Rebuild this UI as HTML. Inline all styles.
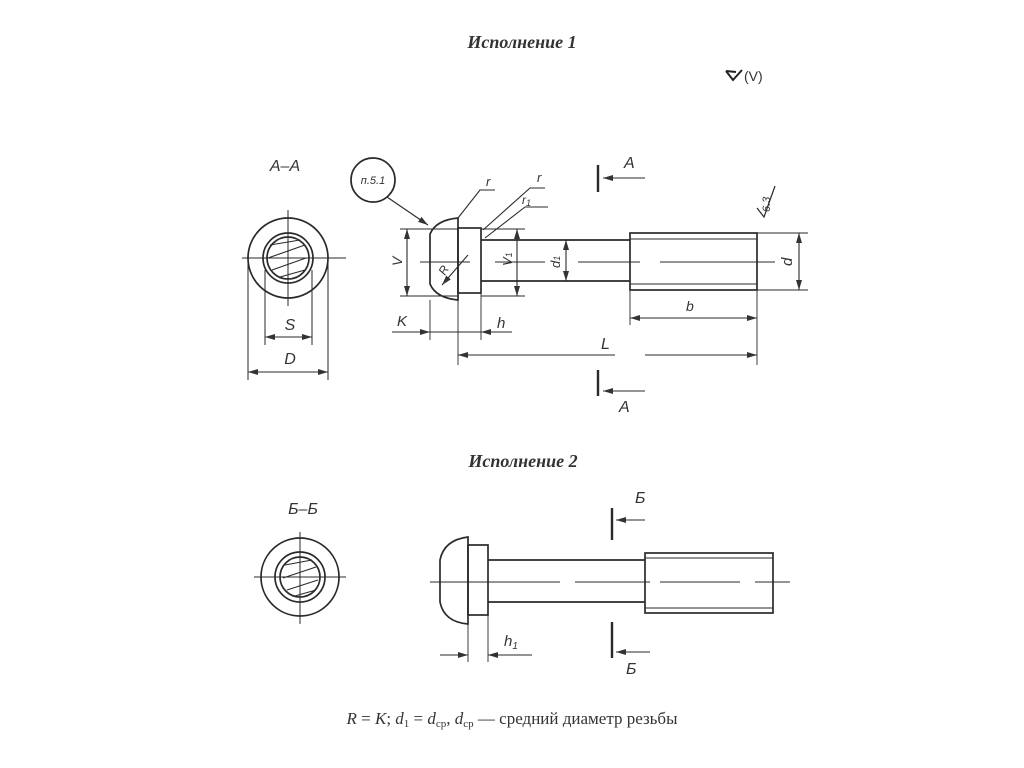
<!DOCTYPE html>
<html><head><meta charset="utf-8"><style>
html,body{margin:0;padding:0;background:#fff;}
svg{display:block}
text{font-family:"Liberation Sans",sans-serif;fill:#333}
.i{font-style:italic}
.t{font-family:"Liberation Serif",serif}
</style></head><body>
<svg width="1024" height="768" viewBox="0 0 1024 768" xmlns="http://www.w3.org/2000/svg">
<defs>
<marker id="a" viewBox="0 0 10 6" refX="10" refY="3" markerWidth="10" markerHeight="6" orient="auto-start-reverse" markerUnits="userSpaceOnUse"><path d="M0,0L10,3L0,6z" fill="#333"/></marker>
</defs>
<text x="522" y="48" class="t i" font-size="18" text-anchor="middle" font-weight="bold" fill="#444">Исполнение 1</text>
<path d="M726,71 L733,80 L742,70 M726,71 L736,72" stroke="#222" stroke-width="2" fill="none"/>
<text x="744" y="81" font-size="14">(V)</text>
<text x="523" y="467" class="t i" font-size="18" text-anchor="middle" font-weight="bold" fill="#444">Исполнение 2</text>
<text x="512" y="724" class="t" font-size="17" text-anchor="middle" fill="#222"><tspan class="i">R</tspan> = <tspan class="i">K</tspan>; <tspan class="i">d</tspan><tspan font-size="11" dy="3">1</tspan><tspan dy="-3"> = </tspan><tspan class="i">d</tspan><tspan font-size="11" dy="3">ср</tspan><tspan dy="-3">, </tspan><tspan class="i">d</tspan><tspan font-size="11" dy="3">ср</tspan><tspan dy="-3"> — средний диаметр резьбы</tspan></text>

<g stroke="#2a2a2a" fill="none" stroke-width="1.7">
<!-- A-A section -->
<circle cx="288" cy="258" r="40"/>
<circle cx="288" cy="258" r="25"/>
<circle cx="288" cy="258" r="21"/>
<path d="M270,245 L300,240 M268,258 L305,245 M272,270 L306,258 M280,277 L305,270" stroke-width="1.1"/>
<path d="M242,258H346M288,210V306" stroke-width="1"/>
<path d="M248,262V380M328,262V380M265,270V345M312,270V345" stroke-width="1"/>
<path d="M248,372H328" marker-start="url(#a)" marker-end="url(#a)" stroke-width="1.1"/>
<path d="M265,337H312" marker-start="url(#a)" marker-end="url(#a)" stroke-width="1.1"/>

<!-- bolt 1 -->
<path d="M458,218 Q436,220 430,234 V284 Q436,298 458,300 Z"/>
<rect x="458" y="228" width="23" height="65"/>
<path d="M481,240H630M481,281H630"/>
<rect x="630" y="233" width="127" height="57"/>
<path d="M630,239H757M630,284H757" stroke-width="0.9"/>
<path d="M420,262H470M495,262H545M578,262H640M660,262H775" stroke-width="0.9"/>
<path d="M400,229H458M400,296H458M481,229H525M481,296H525" stroke-width="0.9"/>
<path d="M407,229V296" marker-start="url(#a)" marker-end="url(#a)" stroke-width="1.1"/>
<path d="M517,229V296" marker-start="url(#a)" marker-end="url(#a)" stroke-width="1.1"/>
<path d="M566,240V281" marker-start="url(#a)" marker-end="url(#a)" stroke-width="1.1"/>
<path d="M757,233H808M757,290H808" stroke-width="0.9"/>
<path d="M799,233V290" marker-start="url(#a)" marker-end="url(#a)" stroke-width="1.1"/>
<path d="M430,300V340M458,300V365M481,293V340M757,290V365M630,290V325" stroke-width="0.9"/>
<path d="M392,332H430" marker-end="url(#a)" stroke-width="1.1"/>
<path d="M430,332H481" stroke-width="0.9"/>
<path d="M512,332H481" marker-end="url(#a)" stroke-width="1.1"/>
<path d="M630,318H757" marker-start="url(#a)" marker-end="url(#a)" stroke-width="1.1"/>
<path d="M458,355H615M645,355H757" stroke-width="1.1"/>
<path d="M468,355H458" marker-end="url(#a)" stroke-width="1.1"/>
<path d="M747,355H757" marker-end="url(#a)" stroke-width="1.1"/>
<path d="M468,255L442,285" marker-end="url(#a)" stroke-width="1.1"/>
<circle cx="373" cy="180" r="22"/>
<path d="M387,197L428,225" marker-end="url(#a)" stroke-width="1.1"/>
<path d="M495,190H480L458,218" stroke-width="1.1"/>
<path d="M545,188H530L483,230" stroke-width="1.1"/>
<path d="M548,207H525L485,238" stroke-width="1.1"/>
<path d="M598,165V192M598,370V396" stroke-width="2.4"/>
<path d="M645,178H603" marker-end="url(#a)" stroke-width="1.1"/>
<path d="M645,391H603" marker-end="url(#a)" stroke-width="1.1"/>
<path d="M757,208L764,217L775,186" stroke-width="1.2"/>

<!-- Б-Б section -->
<circle cx="300" cy="577" r="39"/>
<circle cx="300" cy="577" r="25"/>
<circle cx="300" cy="577" r="20"/>
<path d="M285,565L312,560M283,578L316,567M287,590L318,580M295,596L316,590" stroke-width="1.1"/>
<path d="M254,577H346M300,532V624" stroke-width="1"/>

<!-- bolt 2 -->
<path d="M468,537 Q444,540 440,560 V602 Q444,622 468,624 Z"/>
<rect x="468" y="545" width="20" height="70"/>
<path d="M488,560H645M488,602H645"/>
<rect x="645" y="553" width="128" height="60"/>
<path d="M645,558H773M645,608H773" stroke-width="0.9"/>
<path d="M430,582H560M575,582H650M660,582H740M755,582H790" stroke-width="0.9"/>
<path d="M612,508V540M612,622V658" stroke-width="2.4"/>
<path d="M645,520H616" marker-end="url(#a)" stroke-width="1.1"/>
<path d="M650,652H616" marker-end="url(#a)" stroke-width="1.1"/>
<path d="M468,624V662M488,615V662" stroke-width="0.9"/>
<path d="M440,655H468" marker-end="url(#a)" stroke-width="1.1"/>
<path d="M515,655H488" marker-end="url(#a)" stroke-width="1.1"/>
<path d="M488,655H532" stroke-width="0.9"/>
</g>

<g font-size="16" class="i">
<text x="285" y="171" text-anchor="middle" class="i">A–A</text>
<text x="290" y="330" text-anchor="middle" class="i">S</text>
<text x="290" y="364" text-anchor="middle" class="i">D</text>
<text x="373" y="184" text-anchor="middle" font-size="11" class="i">п.5.1</text>
<text x="486" y="186" font-size="13" class="i">r</text>
<text x="537" y="182" font-size="13" class="i">r</text>
<text x="522" y="204" font-size="12" class="i">r<tspan font-size="9" dy="2">1</tspan></text>
<text x="624" y="168" class="i">A</text>
<text x="619" y="412" class="i">A</text>
<text x="397" y="326" font-size="15" class="i">K</text>
<text x="497" y="328" font-size="15" class="i">h</text>
<text x="686" y="311" font-size="14" class="i">b</text>
<text x="601" y="349" class="i">L</text>
<text x="445" y="276" font-size="12" class="i" transform="rotate(-60 445 276)">R</text>
<text x="402" y="266" font-size="14" class="i" transform="rotate(-90 402 266)">V</text>
<text x="512" y="266" font-size="13" class="i" transform="rotate(-90 512 266)">V<tspan font-size="9">1</tspan></text>
<text x="560" y="268" font-size="13" class="i" transform="rotate(-90 560 268)">d<tspan font-size="9">1</tspan></text>
<text x="792" y="266" font-size="15" class="i" transform="rotate(-90 792 266)">d</text>
<text x="770" y="212" font-size="11" class="i" transform="rotate(-90 770 212)">6.3</text>
<text x="303" y="514" text-anchor="middle" class="i">Б–Б</text>
<text x="635" y="503" class="i">Б</text>
<text x="626" y="674" class="i">Б</text>
<text x="504" y="646" font-size="15" class="i">h<tspan font-size="10" dy="3">1</tspan></text>
</g>
</svg>
</body></html>
